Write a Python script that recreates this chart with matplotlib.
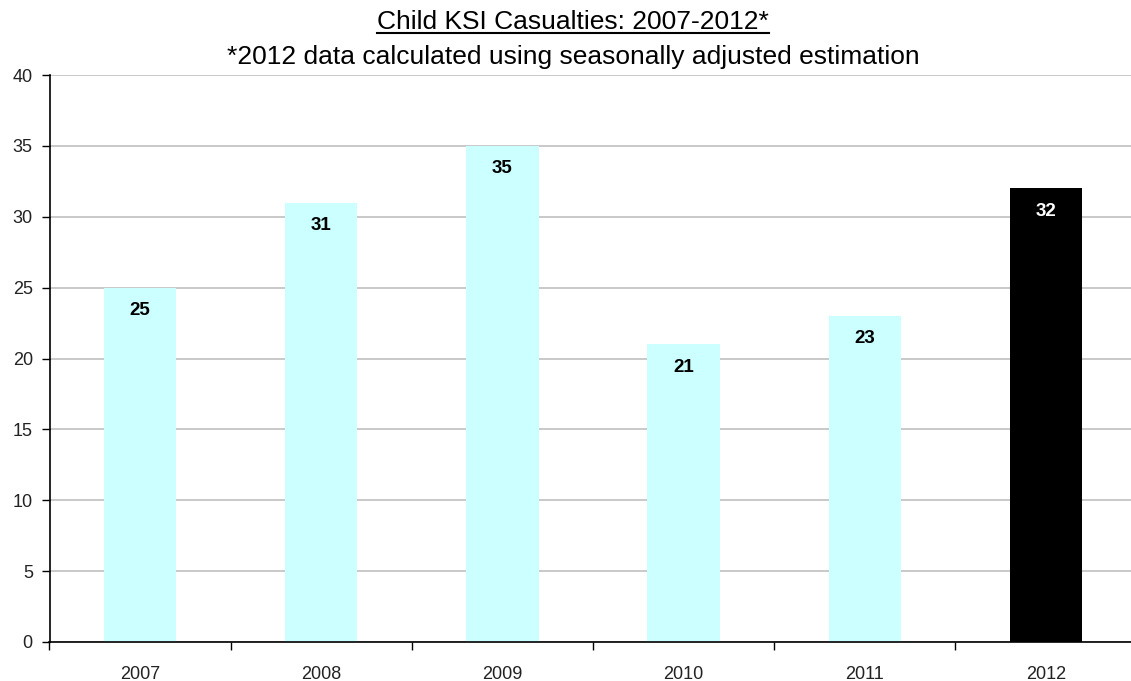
import numpy as np
import matplotlib.pyplot as plt
from matplotlib.lines import Line2D

plt.rcParams['font.family'] = ['Liberation Sans', 'DejaVu Sans']

years = ['2007', '2008', '2009', '2010', '2011', '2012']
casualties = [25, 31, 35, 21, 23, 32]
bar_colors = ['#CCFFFF'] * 5 + ['#000000']
label_colors = ['black'] * 5 + ['white']

fig = plt.figure(figsize=(11.31, 6.81), dpi=100)
# plot area in pixels: left 49.5, right 1136.5, bottom 642, top 75
ax = fig.add_axes([49.5 / 1131, (681 - 642) / 681, 1087 / 1131, (642 - 75) / 681])

x = np.arange(len(years))
ax.bar(x, casualties, width=0.4, color=bar_colors, zorder=2)

for xi, v, c in zip(x, casualties, label_colors):
    ax.annotate(str(v), (xi, v), xytext=(0, -23), textcoords='offset pixels',
                ha='center', va='center', fontsize=13.5, fontweight='bold', color=c, zorder=3)

ax.set_xlim(-0.5, len(years) - 0.5)
ax.set_ylim(0, 40)
ax.set_yticks(np.arange(0, 41, 5))
ax.yaxis.grid(True, color='#C0C0C0', linewidth=1.2, zorder=0)
ax.set_axisbelow(True)

# category labels centred under bars, tick marks on category boundaries
ax.set_xticks(np.arange(-0.5, len(years), 1.0))
ax.set_xticklabels([])
ax.set_xticks(x, minor=True)
ax.set_xticklabels(years, minor=True)
ax.tick_params(axis='x', which='minor', length=0, pad=17, labelsize=13, labelcolor='#222222')
ax.tick_params(axis='x', which='major', length=6, width=1, direction='out')
ax.tick_params(axis='y', length=6, width=1, direction='out', labelsize=13, pad=6,
               labelcolor='#222222')

for s in ['top', 'right']:
    ax.spines[s].set_visible(False)
for s in ['left', 'bottom']:
    ax.spines[s].set_linewidth(1.2)

title = fig.text(573 / 1131, 1 - 29 / 681, 'Child KSI Casualties: 2007-2012*',
                 ha='center', va='baseline', fontsize=19)
fig.text(573 / 1131, 1 - 64 / 681, '*2012 data calculated using seasonally adjusted estimation',
         ha='center', va='baseline', fontsize=19)

# underline the main title
fig.canvas.draw()
bb = title.get_window_extent()
uy = (681 - 33) / 681
fig.add_artist(Line2D([bb.x0 / fig.bbox.width, bb.x1 / fig.bbox.width], [uy, uy],
                      color='black', linewidth=1.5, transform=fig.transFigure))

fig.savefig('out.png', dpi=100)
